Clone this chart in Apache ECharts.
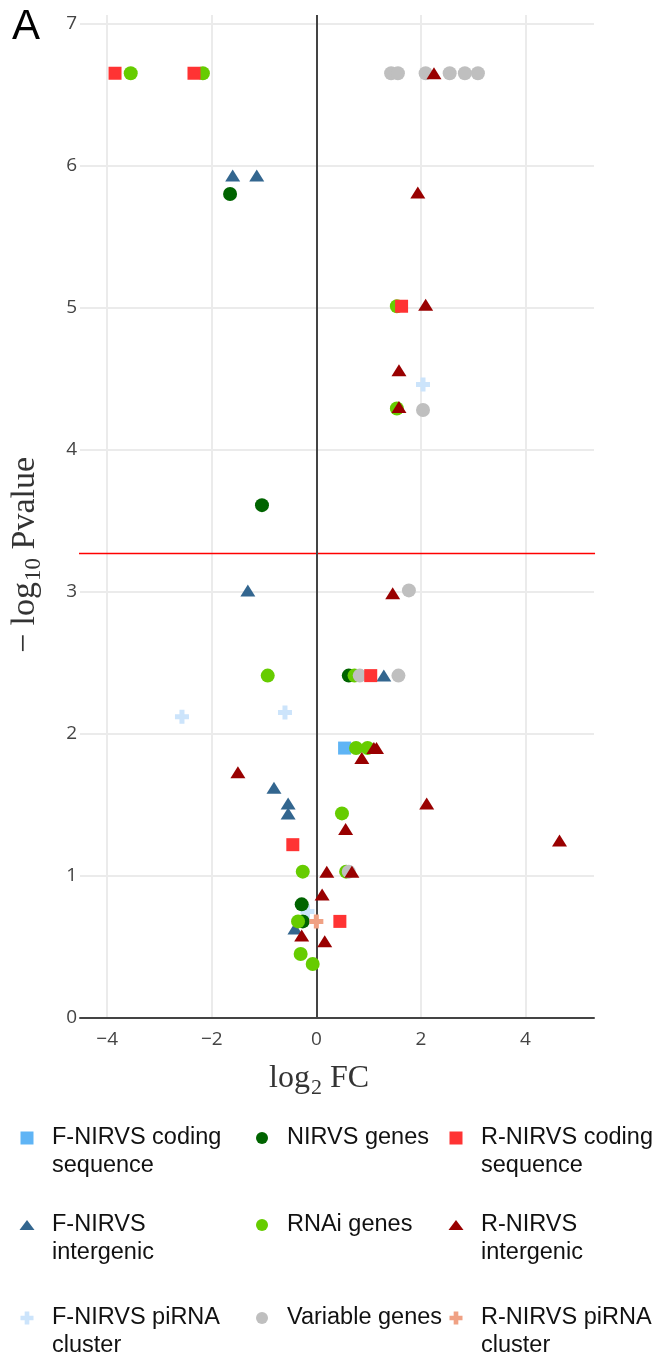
<!DOCTYPE html>
<html><head><meta charset="utf-8">
<script src="https://cdn.jsdelivr.net/npm/echarts@6/dist/echarts.min.js"></script>
<style>html,body{margin:0;padding:0;background:#fff}#c{width:662px;height:1359px}</style>
</head><body><div id="c"></div>
<script>
// ---- data (log2 FC, -log10 Pvalue) ----
const seriesNames = [
  'F-NIRVS coding sequence', 'F-NIRVS intergenic', 'F-NIRVS piRNA cluster',
  'NIRVS genes', 'RNAi genes', 'Variable genes',
  'R-NIRVS coding sequence', 'R-NIRVS intergenic', 'R-NIRVS piRNA cluster'
];
const fCodingPts = [[0.54, 1.90]];
const fInterPts = [[-1.60, 5.93], [-1.14, 5.93], [-1.31, 3.01], [1.29, 2.41], [-0.81, 1.62],
  [-0.54, 1.51], [-0.54, 1.44], [-0.41, 0.63]];
const fPiPts = [[2.04, 4.46], [-2.57, 2.12], [-0.60, 2.15], [-0.17, 0.75]];
const nirvsPts = [[-1.65, 5.80], [-1.04, 3.61], [0.62, 2.41], [-0.28, 0.80], [-0.26, 0.68]];
const rnaiPts = [[-3.55, 6.65], [-2.17, 6.65], [1.54, 5.01], [1.54, 4.29], [-0.93, 2.41], [0.73, 2.41],
  [0.76, 1.90], [0.98, 1.90], [0.49, 1.44], [-0.26, 1.03], [0.57, 1.03], [-0.35, 0.68], [-0.30, 0.45], [-0.07, 0.38]];
const variablePts = [[1.43, 6.65], [1.56, 6.65], [2.09, 6.65], [2.55, 6.65], [2.84, 6.65], [3.09, 6.65],
  [2.04, 4.28], [1.77, 3.01], [0.83, 2.41], [1.57, 2.41], [0.62, 1.03]];
const rCodingPts = [[-3.85, 6.65], [-2.34, 6.65], [1.63, 5.01], [1.04, 2.41], [-0.45, 1.22], [0.45, 0.68]];
const rInterPts = [[2.25, 6.65], [1.94, 5.81], [2.09, 5.02], [1.58, 4.56], [1.58, 4.30], [1.46, 2.99],
  [1.10, 1.90], [1.15, 1.90], [0.87, 1.83], [-1.50, 1.73], [2.11, 1.51], [0.56, 1.33], [4.65, 1.25],
  [0.20, 1.03], [0.68, 1.03], [0.11, 0.87], [-0.28, 0.58], [0.16, 0.54]];
const rPiPts = [[0.00, 0.68]];
const xTickValues = [-4, -2, 0, 2, 4];
const yTickValues = [0, 1, 2, 3, 4, 5, 6, 7];
const threshold = 3.27;
const thresholdSpan = [-4.71, 5.33]; // extent of the significance line in log2 FC

const allPts = [fCodingPts, fInterPts, fPiPts, nirvsPts, rnaiPts, variablePts, rCodingPts, rInterPts, rPiPts];

// ---- styles ----
const crossPath = 'path://M4.5,0H9.5V4.5H14V9.5H9.5V14H4.5V9.5H0V4.5H4.5Z';
const styles = [
  {color: '#5fb4f5', symbol: 'rect', size: 13, icon: 'rect', iw: 13, ih: 13},
  {color: '#33668f', symbol: 'triangle', size: [15, 12], icon: 'triangle', iw: 15, ih: 10},
  {color: '#cce4fb', symbol: crossPath, size: 14, icon: crossPath, iw: 13, ih: 13},
  {color: '#006400', symbol: 'circle', size: 14, icon: 'circle', iw: 12, ih: 13},
  {color: '#66cc00', symbol: 'circle', size: 14, icon: 'circle', iw: 12, ih: 13},
  {color: '#bfbfbf', symbol: 'circle', size: 14, icon: 'circle', iw: 12, ih: 13},
  {color: '#ff3333', symbol: 'rect', size: 13, icon: 'rect', iw: 13, ih: 13},
  {color: '#990000', symbol: 'triangle', size: [15, 12], icon: 'triangle', iw: 15, ih: 10},
  {color: '#f0a184', symbol: crossPath, size: 14, icon: crossPath, iw: 13, ih: 13}
];
const displayText = {
  'F-NIRVS coding sequence': 'F-NIRVS coding\nsequence',
  'F-NIRVS intergenic': 'F-NIRVS\nintergenic',
  'F-NIRVS piRNA cluster': 'F-NIRVS piRNA\ncluster',
  'NIRVS genes': 'NIRVS genes',
  'RNAi genes': 'RNAi genes',
  'Variable genes': 'Variable genes',
  'R-NIRVS coding sequence': 'R-NIRVS coding\nsequence',
  'R-NIRVS intergenic': 'R-NIRVS\nintergenic',
  'R-NIRVS piRNA cluster': 'R-NIRVS piRNA\ncluster'
};
// legend layout: icon centre per series (column x, row y)
const legendCols = [27, 262, 456];
const legendRows = [1138, 1225, 1318];
const legendCell = [[0, 1], [0, 2], [0, 3], [1, 1], [1, 2], [1, 3], [2, 1], [2, 2], [2, 3]];

const series = [{
  type: 'scatter', data: [], z: 1, silent: true,
  markLine: {
    symbol: 'none', silent: true, label: {show: false}, animation: false,
    lineStyle: {color: '#444', width: 2, type: 'solid'},
    data: [{xAxis: 0}]
  }
}, {
  name: 'threshold', type: 'line', z: 1, silent: true, clip: false,
  showSymbol: false, symbol: 'none',
  data: [[thresholdSpan[0], threshold], [thresholdSpan[1], threshold]],
  lineStyle: {color: '#ff0000', width: 1.6, type: 'solid', opacity: 1},
  itemStyle: {color: '#ff0000'},
  emphasis: {disabled: true}
}];
seriesNames.forEach((n, i) => {
  series.push({
    name: n, type: 'scatter', data: allPts[i], z: 2 + i,
    symbol: styles[i].symbol, symbolSize: styles[i].size,
    itemStyle: {color: styles[i].color, opacity: 1},
    emphasis: {disabled: true}
  });
});

const legends = seriesNames.map((n, i) => {
  const st = styles[i];
  const two = displayText[n].indexOf('\n') >= 0;
  const cx = legendCols[legendCell[i][0]];
  const cy = legendRows[legendCell[i][1] - 1];
  return {
    data: [{name: n, icon: st.icon}], orient: 'vertical', padding: 0,
    left: cx - st.iw / 2, top: cy - (two ? 42 : 14),
    itemWidth: st.iw, itemHeight: st.ih, selectedMode: false,
    formatter: (nm) => (displayText[nm].indexOf('\n') >= 0 ? ' \n' : '') + displayText[nm],
    textStyle: {
      fontFamily: 'Liberation Sans, Arial', fontSize: 23.5, color: '#111', lineHeight: 28,
      padding: [0, 0, 0, 25 - st.iw / 2 - 5]
    }
  };
});

const isTick = (v, list) => list.some(t => Math.abs(t - v) < 1e-6);
const option = {
  animation: false,
  backgroundColor: '#fff',
  grid: {left: 80, right: 68, top: 15, bottom: 341, containLabel: false},
  xAxis: {
    type: 'value', min: -4.52, max: 5.31, splitNumber: 5,
    axisLine: {show: true, onZero: false, lineStyle: {color: '#444', width: 2}},
    axisTick: {show: false},
    splitLine: {show: true, showMinLine: false, showMaxLine: false, lineStyle: {color: '#ebebeb', width: 2}},
    axisLabel: {
      margin: 12, fontSize: 19, color: '#444', fontFamily: 'Open Sans',
      formatter: v => isTick(v, xTickValues) ? String(v).replace('-', '\u2212') : ''
    }
  },
  yAxis: {
    type: 'value', min: 0, max: 7.06, interval: 1,
    axisLine: {show: false}, axisTick: {show: false},
    splitLine: {show: true, showMinLine: false, showMaxLine: false, lineStyle: {color: '#ebebeb', width: 2}},
    axisLabel: {
      margin: 3, fontSize: 19, color: '#444', fontFamily: 'Open Sans',
      formatter: v => isTick(v, yTickValues) ? String(v) : ''
    }
  },
  legend: legends,
  graphic: [
    {type: 'text', x: 26, y: 27, style: {text: 'A', fontSize: 42, fontFamily: 'Liberation Sans, Arial', fill: '#000', align: 'center', verticalAlign: 'middle'}},
    {type: 'text', x: 25, y: 555, rotation: Math.PI / 2,
      style: {
        text: '{a|\u2212 log}{s|10}{a| Pvalue}', align: 'center', verticalAlign: 'middle',
        rich: {
          a: {fontSize: 34, fontFamily: 'Liberation Serif', fill: '#333'},
          s: {fontSize: 23, fontFamily: 'Liberation Serif', fill: '#333', padding: [18, 0, 0, 1]}
        }
      }},
    {type: 'text', x: 319, y: 1079,
      style: {
        text: '{a|log}{s|2}{a| FC}', align: 'center', verticalAlign: 'middle',
        rich: {
          a: {fontSize: 32, fontFamily: 'Liberation Serif', fill: '#333'},
          s: {fontSize: 22, fontFamily: 'Liberation Serif', fill: '#333', padding: [18, 0, 0, 1]}
        }
      }}
  ],
  series: series
};
const chart = echarts.init(document.getElementById('c'), null, {renderer: 'canvas'});
chart.setOption(option);
</script></body></html>
